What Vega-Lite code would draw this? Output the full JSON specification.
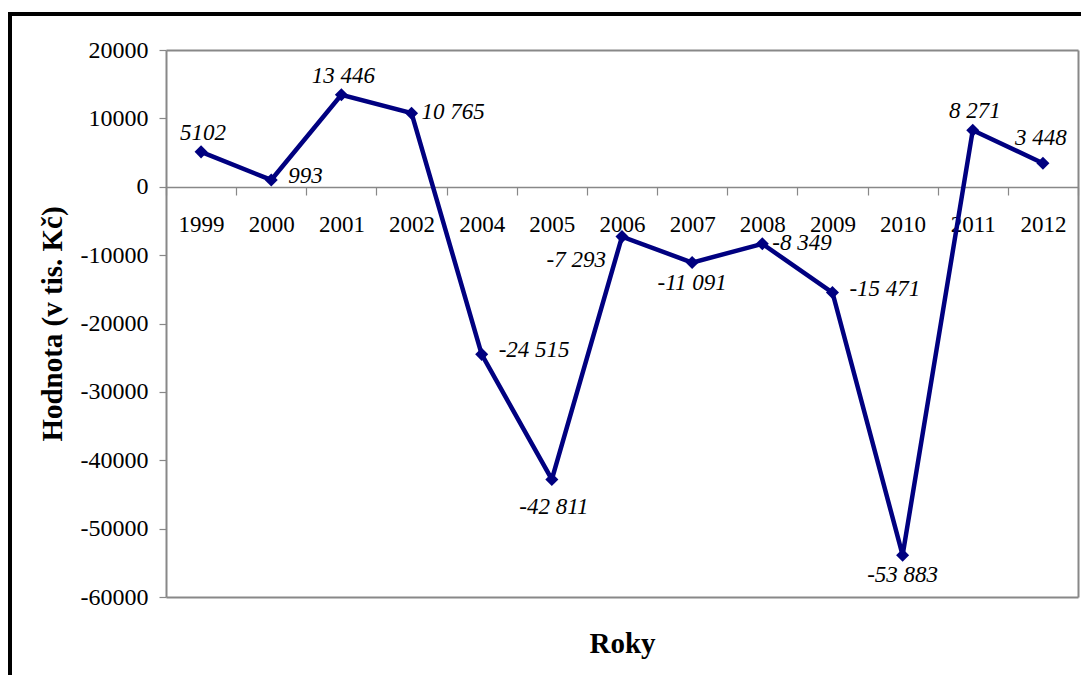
{
  "$schema": "https://vega.github.io/schema/vega-lite/v6.json",
  "autosize": "none",
  "width": 1071,
  "height": 661,
  "padding": {"left": 10, "top": 14, "right": 0, "bottom": 0},
  "background": "white",
  "view": {"stroke": "black", "strokeWidth": 4, "strokeDash": [1071, 1732, 661], "fill": "white"},
  "data": {
    "values": [
      {"year": 1999, "value": 5102, "label": "5102"},
      {"year": 2000, "value": 993, "label": "993"},
      {"year": 2001, "value": 13446, "label": "13 446"},
      {"year": 2002, "value": 10765, "label": "10 765"},
      {"year": 2004, "value": -24515, "label": "-24 515"},
      {"year": 2005, "value": -42811, "label": "-42 811"},
      {"year": 2006, "value": -7293, "label": "-7 293"},
      {"year": 2007, "value": -11091, "label": "-11 091"},
      {"year": 2008, "value": -8349, "label": "-8 349"},
      {"year": 2009, "value": -15471, "label": "-15 471"},
      {"year": 2010, "value": -53883, "label": "-53 883"},
      {"year": 2011, "value": 8271, "label": "8 271"},
      {"year": 2012, "value": 3448, "label": "3 448"}
    ]
  },
  "resolve": {"axis": {"y": "independent"}},
  "encoding": {
    "x": {
      "field": "year",
      "type": "ordinal",
      "sort": null,
      "scale": {"type": "band", "range": [156, 1068], "paddingInner": 0, "paddingOuter": 0},
      "axis": {
        "orient": "bottom",
        "offset": -488,
        "title": "Roky",
        "titleFont": "Liberation Serif",
        "titleFontSize": 29,
        "titleFontWeight": "bold",
        "titleColor": "black",
        "titleY": 465,
        "titleBaseline": "alphabetic",
        "labelFont": "Liberation Serif",
        "labelFontSize": 23,
        "labelColor": "black",
        "labelAngle": 0,
        "labelPadding": 18,
        "labelFlush": false,
        "labelOverlap": false,
        "tickBand": "extent",
        "tickSize": 8,
        "tickColor": "#888888",
        "tickWidth": 1.2,
        "domainColor": "#888888",
        "domainWidth": 1.5,
        "grid": false
      }
    },
    "y": {
      "field": "value",
      "type": "quantitative",
      "scale": {"domain": [-60000, 20000], "range": [583, 36], "nice": false, "zero": false},
      "axis": null
    }
  },
  "layer": [
    {
      "mark": {"type": "line", "color": "#000080", "strokeWidth": 4.5},
      "encoding": {
        "y": {
          "field": "value",
          "type": "quantitative",
          "scale": {"domain": [-60000, 20000], "range": [583, 36], "nice": false, "zero": false},
          "axis": {
            "orient": "left",
            "offset": -156,
            "values": [-60000, -50000, -40000, -30000, -20000, -10000, 0, 10000, 20000],
            "labelExpr": "'' + datum.value",
            "title": "Hodnota (v tis. Kč)",
            "titleFont": "Liberation Serif",
            "titleFontSize": 29,
            "titleFontWeight": "bold",
            "titleColor": "black",
            "titlePadding": 13,
            "labelFont": "Liberation Serif",
            "labelFontSize": 24,
            "labelColor": "black",
            "labelPadding": 11,
            "tickSize": 7,
            "tickColor": "#888888",
            "tickWidth": 1.2,
            "domainColor": "#888888",
            "domainWidth": 2,
            "grid": true,
            "gridColor": "#888888",
            "gridWidth": 2,
            "gridOpacity": {"condition": {"test": "datum.value === 20000 || datum.value === -60000", "value": 1}, "value": 0}
          }
        }
      }
    },
    {
      "mark": {"type": "point", "shape": "diamond", "filled": true, "color": "#000080", "size": 170, "opacity": 1},
      "encoding": {
        "y": {
          "field": "value",
          "type": "quantitative",
          "scale": {"domain": [-60000, 20000], "range": [583, 36], "nice": false, "zero": false},
          "axis": {
            "orient": "right",
            "offset": -3,
            "title": null,
            "labels": false,
            "ticks": false,
            "grid": false,
            "domainColor": "#888888",
            "domainWidth": 2
          }
        }
      }
    },
    {
      "transform": [{"filter": {"field": "year", "oneOf": [1999, 2001, 2011]}}],
      "mark": {"type": "text", "font": "Liberation Serif", "fontSize": 23, "fontStyle": "italic", "color": "black", "align": "center", "baseline": "middle", "dx": 2, "dy": -19},
      "encoding": {"text": {"field": "label"}}
    },
    {
      "transform": [{"filter": {"field": "year", "oneOf": [2012]}}],
      "mark": {"type": "text", "font": "Liberation Serif", "fontSize": 23, "fontStyle": "italic", "color": "black", "align": "center", "baseline": "middle", "dx": -2, "dy": -25},
      "encoding": {"text": {"field": "label"}}
    },
    {
      "transform": [{"filter": {"field": "year", "oneOf": [2000, 2004, 2009]}}],
      "mark": {"type": "text", "font": "Liberation Serif", "fontSize": 23, "fontStyle": "italic", "color": "black", "align": "left", "baseline": "middle", "dx": 17, "dy": -4},
      "encoding": {"text": {"field": "label"}}
    },
    {
      "transform": [{"filter": {"field": "year", "oneOf": [2002, 2008]}}],
      "mark": {"type": "text", "font": "Liberation Serif", "fontSize": 23, "fontStyle": "italic", "color": "black", "align": "left", "baseline": "middle", "dx": 10, "dy": -1},
      "encoding": {"text": {"field": "label"}}
    },
    {
      "transform": [{"filter": {"field": "year", "oneOf": [2005]}}],
      "mark": {"type": "text", "font": "Liberation Serif", "fontSize": 23, "fontStyle": "italic", "color": "black", "align": "center", "baseline": "middle", "dx": 2, "dy": 28},
      "encoding": {"text": {"field": "label"}}
    },
    {
      "transform": [{"filter": {"field": "year", "oneOf": [2007, 2010]}}],
      "mark": {"type": "text", "font": "Liberation Serif", "fontSize": 23, "fontStyle": "italic", "color": "black", "align": "center", "baseline": "middle", "dx": 0, "dy": 20},
      "encoding": {"text": {"field": "label"}}
    },
    {
      "transform": [{"filter": {"field": "year", "oneOf": [2006]}}],
      "mark": {"type": "text", "font": "Liberation Serif", "fontSize": 23, "fontStyle": "italic", "color": "black", "align": "right", "baseline": "middle", "dx": -16, "dy": 23},
      "encoding": {"text": {"field": "label"}}
    }
  ]
}
